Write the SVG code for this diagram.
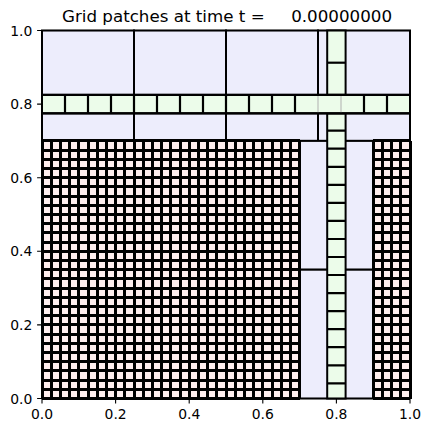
<svg xmlns="http://www.w3.org/2000/svg" width="432" height="433" viewBox="0 0 432 433">
<style>
.lav{fill:#ededfc;stroke:#000;stroke-width:2}
.grn{fill:#ecfcea;stroke:#000;stroke-width:2}
.pink{fill:#ffeeee}
.grid{fill:none;stroke:#000;stroke-width:3;shape-rendering:crispEdges}
.cell{fill:none;stroke:#000;stroke-width:2.2}
.faint{fill:none;stroke:#b0b0b0;stroke-width:1}
.tick{stroke:#000;stroke-width:1.1}
.lbl{font-family:"DejaVu Sans",sans-serif;font-size:13.9px;fill:#000}
.title{font-family:"DejaVu Sans",sans-serif;font-size:16.7px;fill:#000;white-space:pre}
</style>
<rect x="0" y="0" width="432" height="433" fill="#fff"/>
<g id="top-patches">
<rect class="lav" x="42" y="30.5" width="92" height="110.4"/>
<rect class="lav" x="134" y="30.5" width="92" height="110.4"/>
<rect class="lav" x="226" y="30.5" width="92" height="110.4"/>
<rect class="lav" x="318" y="30.5" width="92" height="110.4"/>
</g>
<g id="bottom-lavender">
<rect class="lav" x="299.6" y="140.9" width="73.6" height="128.8"/>
<rect class="lav" x="299.6" y="269.7" width="73.6" height="128.8"/>
</g>
<g id="fine-left">
<rect class="pink" x="42" y="140.9" width="257.6" height="257.6"/>
<path class="grid" d="M42 140.9V398.5M51.2 140.9V398.5M60.4 140.9V398.5M69.6 140.9V398.5M78.8 140.9V398.5M88 140.9V398.5M97.2 140.9V398.5M106.4 140.9V398.5M115.6 140.9V398.5M124.8 140.9V398.5M134 140.9V398.5M143.2 140.9V398.5M152.4 140.9V398.5M161.6 140.9V398.5M170.8 140.9V398.5M180 140.9V398.5M189.2 140.9V398.5M198.4 140.9V398.5M207.6 140.9V398.5M216.8 140.9V398.5M226 140.9V398.5M235.2 140.9V398.5M244.4 140.9V398.5M253.6 140.9V398.5M262.8 140.9V398.5M272 140.9V398.5M281.2 140.9V398.5M290.4 140.9V398.5M299.6 140.9V398.5M42 398.5H299.6M42 389.3H299.6M42 380.1H299.6M42 370.9H299.6M42 361.7H299.6M42 352.5H299.6M42 343.3H299.6M42 334.1H299.6M42 324.9H299.6M42 315.7H299.6M42 306.5H299.6M42 297.3H299.6M42 288.1H299.6M42 278.9H299.6M42 269.7H299.6M42 260.5H299.6M42 251.3H299.6M42 242.1H299.6M42 232.9H299.6M42 223.7H299.6M42 214.5H299.6M42 205.3H299.6M42 196.1H299.6M42 186.9H299.6M42 177.7H299.6M42 168.5H299.6M42 159.3H299.6M42 150.1H299.6M42 140.9H299.6"/>
</g>
<g id="fine-right">
<rect class="pink" x="373.2" y="140.9" width="36.8" height="257.6"/>
<path class="grid" d="M373.2 140.9V398.5M382.4 140.9V398.5M391.6 140.9V398.5M400.8 140.9V398.5M410 140.9V398.5M373.2 398.5H410M373.2 389.3H410M373.2 380.1H410M373.2 370.9H410M373.2 361.7H410M373.2 352.5H410M373.2 343.3H410M373.2 334.1H410M373.2 324.9H410M373.2 315.7H410M373.2 306.5H410M373.2 297.3H410M373.2 288.1H410M373.2 278.9H410M373.2 269.7H410M373.2 260.5H410M373.2 251.3H410M373.2 242.1H410M373.2 232.9H410M373.2 223.7H410M373.2 214.5H410M373.2 205.3H410M373.2 196.1H410M373.2 186.9H410M373.2 177.7H410M373.2 168.5H410M373.2 159.3H410M373.2 150.1H410M373.2 140.9H410"/>
</g>
<g id="vertical-strip">
<rect class="grn" x="327.2" y="30.5" width="18.4" height="64.4"/>
<path class="cell" d="M327.2 62.7H345.6"/>
<rect class="grn" x="327.2" y="113.3" width="18.4" height="285.2"/>
<path class="cell" d="M327.2 130.7H345.6M327.2 148.7H345.6M327.2 166.8H345.6M327.2 184.8H345.6M327.2 202.9H345.6M327.2 220.9H345.6M327.2 239H345.6M327.2 257H345.6M327.2 275H345.6M327.2 293.1H345.6M327.2 311.1H345.6M327.2 329.2H345.6M327.2 347.2H345.6M327.2 365.3H345.6M327.2 383.3H345.6"/>
</g>
<g id="horizontal-strip">
<rect class="grn" x="42" y="94.9" width="368" height="18.4"/>
<path class="cell" d="M65 94.9V113.3M88 94.9V113.3M111 94.9V113.3M134 94.9V113.3M157 94.9V113.3M180 94.9V113.3M203 94.9V113.3M226 94.9V113.3M249 94.9V113.3M272 94.9V113.3M295 94.9V113.3M364 94.9V113.3M387 94.9V113.3"/>
<path class="faint" d="M318 94.9V113.3M341 94.9V113.3"/>
<path class="cell" d="M42 94.9H410M42 113.3H410"/>
</g>
<g id="axes">
<rect x="42" y="30.5" width="368" height="368" fill="none" stroke="#000" stroke-width="1.1"/>
<path class="tick" d="M42 398.5V403.4M115.6 398.5V403.4M189.2 398.5V403.4M262.8 398.5V403.4M336.4 398.5V403.4M410 398.5V403.4M42 398.5H37.1M42 324.9H37.1M42 251.3H37.1M42 177.7H37.1M42 104.1H37.1M42 30.5H37.1"/>
<g class="lbl" text-anchor="middle">
<text x="42" y="419">0.0</text>
<text x="115.6" y="419">0.2</text>
<text x="189.2" y="419">0.4</text>
<text x="262.8" y="419">0.6</text>
<text x="336.4" y="419">0.8</text>
<text x="410" y="419">1.0</text>
</g>
<g class="lbl" text-anchor="end">
<text x="32.3" y="403.5">0.0</text>
<text x="32.3" y="329.9">0.2</text>
<text x="32.3" y="256.3">0.4</text>
<text x="32.3" y="182.7">0.6</text>
<text x="32.3" y="109.1">0.8</text>
<text x="32.3" y="35.5">1.0</text>
</g>
<text class="title" x="227" y="22" text-anchor="middle" xml:space="preserve">Grid patches at time t =     0.00000000</text>
</g>
</svg>
